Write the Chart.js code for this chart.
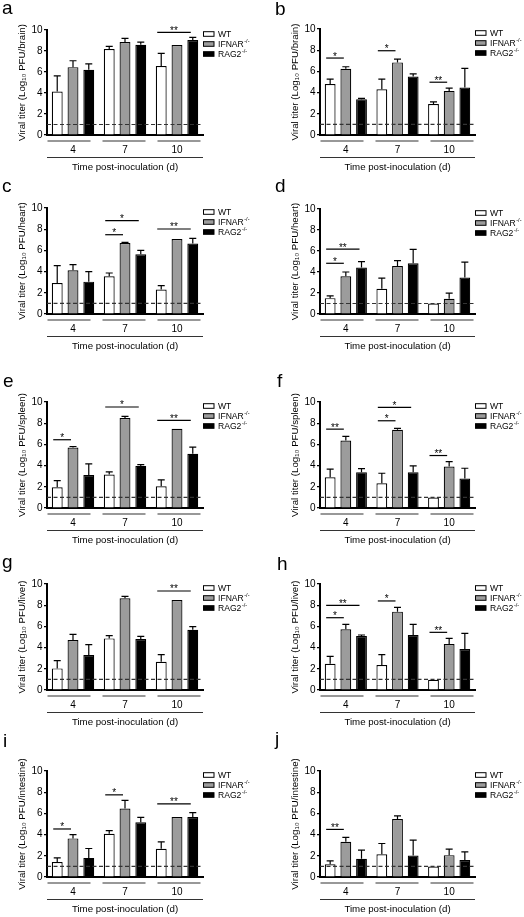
<!DOCTYPE html>
<html><head><meta charset="utf-8">
<script src="https://cdn.jsdelivr.net/npm/chart.js@4.4.1/dist/chart.umd.min.js"></script>
<style>
html,body{margin:0;padding:0;background:#fff;}
body{width:524px;height:917px;position:relative;overflow:hidden;}
canvas{position:absolute;}
</style></head><body>
<script>
// ---------- DATA ----------
const days = ['4', '7', '10'];
const seriesNames = ['WT', 'IFNAR', 'RAG2'];
const seriesSup = ['', '-/-', '-/-'];
const detectionLimit = 1;

// a: brain
const a_WT = [4.14, 8.18, 6.56],   a_WT_hi = [5.64, 8.44, 7.77];
const a_IFNAR = [6.46, 8.85, 8.57], a_IFNAR_hi = [7.07, 9.2, 8.57];
const a_RAG2 = [6.21, 8.6, 9.04],  a_RAG2_hi = [6.78, 8.85, 9.3];
const a_sig = [[2, 2, 9.78, '**']]; // [day index, compared series, bracket value, label]

// b: brain
const b_WT = [4.8, 4.32, 2.93],    b_WT_hi = [5.27, 5.27, 3.12];
const b_IFNAR = [6.25, 6.85, 4.16], b_IFNAR_hi = [6.44, 7.16, 4.42];
const b_RAG2 = [3.38, 5.52, 4.48], b_RAG2_hi = [3.45, 5.77, 6.28];
const b_sig = [[0, 1, 7.26, '*'], [1, 1, 7.95, '*'], [2, 1, 4.98, '**']];

// c: heart
const c_WT = [2.92, 3.55, 2.3],    c_WT_hi = [4.56, 3.87, 2.67];
const c_IFNAR = [4.12, 6.7, 7.08], c_IFNAR_hi = [4.65, 6.76, 7.08];
const c_RAG2 = [3.05, 5.63, 6.64], c_RAG2_hi = [3.99, 6.0, 7.14];
const c_sig = [[1, 1, 7.48, '*'], [1, 2, 8.8, '*'], [2, 2, 8.02, '**']];

// d: heart
const d_WT = [1.51, 2.4, 1.0],     d_WT_hi = [1.73, 3.41, 1.0];
const d_IFNAR = [3.6, 4.57, 1.45], d_IFNAR_hi = [4.0, 5.08, 1.99];
const d_RAG2 = [4.42, 4.83, 3.47], d_RAG2_hi = [4.98, 6.15, 4.95];
const d_sig = [[0, 1, 4.83, '*'], [0, 2, 6.18, '**']];

// e: spleen
const e_WT = [1.96, 3.15, 2.05],   e_WT_hi = [2.59, 3.41, 2.65];
const e_IFNAR = [5.71, 8.49, 7.48], e_IFNAR_hi = [5.8, 8.64, 7.48];
const e_RAG2 = [3.12, 3.97, 5.11], e_RAG2_hi = [4.16, 4.1, 5.74];
const e_sig = [[0, 1, 6.44, '*'], [1, 2, 9.53, '*'], [2, 2, 8.26, '**']];

// f: spleen
const f_WT = [2.9, 2.33, 0.98],    f_WT_hi = [3.66, 3.28, 0.98];
const f_IFNAR = [6.37, 7.38, 3.91], f_IFNAR_hi = [6.75, 7.51, 4.38];
const f_RAG2 = [3.38, 3.38, 2.78], f_RAG2_hi = [3.72, 3.97, 3.75];
const f_sig = [[0, 1, 7.44, '**'], [1, 1, 8.23, '*'], [1, 2, 9.5, '*'], [2, 1, 4.95, '**']];

// g: liver
const g_WT = [2.04, 4.87, 2.67],   g_WT_hi = [2.77, 5.13, 3.33];
const g_IFNAR = [4.72, 8.65, 8.49], g_IFNAR_hi = [5.25, 8.84, 8.49];
const g_RAG2 = [3.3, 4.81, 5.69],  g_RAG2_hi = [4.28, 5.06, 5.97];
const g_sig = [[2, 2, 9.34, '**']];

// h: liver
const h_WT = [2.48, 2.36, 0.97],   h_WT_hi = [3.18, 3.33, 0.97];
const h_IFNAR = [5.72, 7.39, 4.34], h_IFNAR_hi = [6.19, 7.8, 4.87];
const h_RAG2 = [5.09, 5.19, 3.87], h_RAG2_hi = [5.19, 6.19, 5.35];
const h_sig = [[0, 1, 6.82, '*'], [0, 2, 7.99, '**'], [1, 1, 8.4, '*'], [2, 1, 5.44, '**']];

// i: intestine
const i_WT = [1.42, 4.08, 2.66],   i_WT_hi = [1.8, 4.37, 3.32];
const i_IFNAR = [3.64, 6.46, 5.66], i_IFNAR_hi = [3.99, 7.22, 5.66];
const i_RAG2 = [1.8, 5.16, 5.66],  i_RAG2_hi = [2.69, 5.63, 6.08];
const i_sig = [[0, 1, 4.53, '*'], [1, 1, 7.75, '*'], [2, 2, 6.9, '**']];

// j: intestine
const j_WT = [1.2, 2.15, 0.98],    j_WT_hi = [1.52, 3.16, 0.98];
const j_IFNAR = [3.32, 5.47, 2.06], j_IFNAR_hi = [3.73, 5.76, 2.63];
const j_RAG2 = [1.71, 2.03, 1.61], j_RAG2_hi = [2.53, 3.48, 2.37];
const j_sig = [[0, 1, 4.49, '**']];

const yTicks = [0, 2, 4, 6, 8, 10];

// ---------- LAYOUT ----------
const FONT = '"Liberation Sans", Arial, Helvetica, sans-serif';
const CW = 262, CH = 200, TOPPAD = 45;
const panels = [
  {id:'a', organ:'brain',     col:0, y10:30,  y0:135, letter:[2,14],   vals:[a_WT,a_IFNAR,a_RAG2], hi:[a_WT_hi,a_IFNAR_hi,a_RAG2_hi], sig:a_sig},
  {id:'b', organ:'brain',     col:1, y10:29,  y0:135, letter:[275,15], vals:[b_WT,b_IFNAR,b_RAG2], hi:[b_WT_hi,b_IFNAR_hi,b_RAG2_hi], sig:b_sig},
  {id:'c', organ:'heart',     col:0, y10:208, y0:314, letter:[2,192],  vals:[c_WT,c_IFNAR,c_RAG2], hi:[c_WT_hi,c_IFNAR_hi,c_RAG2_hi], sig:c_sig},
  {id:'d', organ:'heart',     col:1, y10:209, y0:314, letter:[275,192],vals:[d_WT,d_IFNAR,d_RAG2], hi:[d_WT_hi,d_IFNAR_hi,d_RAG2_hi], sig:d_sig},
  {id:'e', organ:'spleen',    col:0, y10:402, y0:508, letter:[3,387],  vals:[e_WT,e_IFNAR,e_RAG2], hi:[e_WT_hi,e_IFNAR_hi,e_RAG2_hi], sig:e_sig},
  {id:'f', organ:'spleen',    col:1, y10:402, y0:508, letter:[277,387],vals:[f_WT,f_IFNAR,f_RAG2], hi:[f_WT_hi,f_IFNAR_hi,f_RAG2_hi], sig:f_sig},
  {id:'g', organ:'liver',     col:0, y10:584, y0:690, letter:[2,568],  vals:[g_WT,g_IFNAR,g_RAG2], hi:[g_WT_hi,g_IFNAR_hi,g_RAG2_hi], sig:g_sig},
  {id:'h', organ:'liver',     col:1, y10:584, y0:690, letter:[277,570],vals:[h_WT,h_IFNAR,h_RAG2], hi:[h_WT_hi,h_IFNAR_hi,h_RAG2_hi], sig:h_sig},
  {id:'i', organ:'intestine', col:0, y10:771, y0:877, letter:[3,747],  vals:[i_WT,i_IFNAR,i_RAG2], hi:[i_WT_hi,i_IFNAR_hi,i_RAG2_hi], sig:i_sig},
  {id:'j', organ:'intestine', col:1, y10:771, y0:877, letter:[275,745],vals:[j_WT,j_IFNAR,j_RAG2], hi:[j_WT_hi,j_IFNAR_hi,j_RAG2_hi], sig:j_sig}
];
const fills = ['#ffffff', '#9c9c9c', '#000000'];

const decor = {
  id: 'decor',
  afterDatasetsDraw(chart, args, opts) {
    const p = opts.panel, ctx = chart.ctx, ca = chart.chartArea;
    const ys = chart.scales.y;
    ctx.save();
    // error bars (upper)
    ctx.strokeStyle = '#000'; ctx.lineWidth = 1.2;
    p.hi.forEach((hiArr, di) => {
      const meta = chart.getDatasetMeta(di);
      hiArr.forEach((hv, k) => {
        const v = p.vals[di][k];
        if (hv == null || hv <= v + 0.02) return;
        const bar = meta.data[k];
        const yHi = ys.getPixelForValue(hv);
        ctx.beginPath();
        ctx.moveTo(bar.x, bar.y); ctx.lineTo(bar.x, yHi);
        ctx.moveTo(bar.x - 3.5, yHi); ctx.lineTo(bar.x + 3.5, yHi);
        ctx.stroke();
      });
    });
    // detection limit
    const yd = ys.getPixelForValue(detectionLimit);
    ctx.setLineDash([4, 2.5]); ctx.strokeStyle = '#333'; ctx.lineWidth = 1.2;
    ctx.beginPath(); ctx.moveTo(ca.left, yd); ctx.lineTo(ca.right, yd); ctx.stroke();
    ctx.setLineDash([]);
    // significance
    ctx.strokeStyle = '#000'; ctx.fillStyle = '#000'; ctx.lineWidth = 1.2;
    ctx.font = '10px ' + FONT; ctx.textAlign = 'center'; ctx.textBaseline = 'alphabetic';
    p.sig.forEach(([k, s, yv, lab]) => {
      const x1 = chart.getDatasetMeta(0).data[k].x - 4;
      const x2 = chart.getDatasetMeta(s).data[k].x - 2;
      const y = ys.getPixelForValue(yv);
      ctx.beginPath(); ctx.moveTo(x1, y); ctx.lineTo(x2, y); ctx.stroke();
      ctx.fillText(lab, (x1 + x2) / 2, y + 1.5);
    });
    ctx.restore();
  },
  afterDraw(chart, args, opts) {
    const p = opts.panel, ctx = chart.ctx, ca = chart.chartArea;
    ctx.save();
    ctx.strokeStyle = '#333'; ctx.lineWidth = 1.2;
    // group underlines
    for (let k = 0; k < days.length; k++) {
      const l = ca.left + 0.5 + k * 55;
      ctx.beginPath(); ctx.moveTo(l, ca.bottom + 6); ctx.lineTo(l + 43, ca.bottom + 6); ctx.stroke();
    }
    // axis-title line
    ctx.beginPath(); ctx.moveTo(ca.left, ca.bottom + 22.5); ctx.lineTo(ca.right, ca.bottom + 22.5); ctx.stroke();
    // legend
    ctx.textAlign = 'left'; ctx.textBaseline = 'middle'; ctx.fillStyle = '#000';
    seriesNames.forEach((nm, si) => {
      const yc = ca.top + 4 + si * 10;
      const bx = ca.right + 0.5;
      ctx.fillStyle = fills[si];
      ctx.fillRect(bx, yc - 2.3, 10.5, 4.6);
      ctx.strokeStyle = '#000'; ctx.lineWidth = 1;
      ctx.strokeRect(bx, yc - 2.3, 10.5, 4.6);
      ctx.fillStyle = '#000';
      ctx.font = '8.6px ' + FONT;
      const tx = bx + 14.5;
      ctx.fillText(nm, tx, yc + 0.5);
      if (seriesSup[si]) {
        const w = ctx.measureText(nm).width;
        ctx.font = '5.5px ' + FONT;
        ctx.fillText(seriesSup[si], tx + w + 0.5, yc - 2.5);
      }
    });
    // panel letter
    ctx.font = '19px ' + FONT; ctx.textBaseline = 'alphabetic'; ctx.textAlign = 'left';
    ctx.fillText(p.id, p.letter[0] - p.col * CW, p.letter[1] - (p.y10 - TOPPAD));
    ctx.restore();
  }
};

panels.forEach(p => {
  const cv = document.createElement('canvas');
  cv.width = CW; cv.height = CH;
  cv.style.left = (p.col * CW) + 'px';
  cv.style.top = (p.y10 - TOPPAD) + 'px';
  cv.style.width = CW + 'px'; cv.style.height = CH + 'px';
  document.body.appendChild(cv);
  const h = p.y0 - p.y10;
  const padL = p.col ? 27.2 : 16.2;
  const padR = p.col ? 49 : 59;
  new Chart(cv, {
    type: 'bar',
    data: {
      labels: days,
      datasets: seriesNames.map((nm, si) => ({
        label: nm + seriesSup[si],
        data: p.vals[si],
        backgroundColor: fills[si],
        borderColor: '#000',
        borderWidth: 1.2,
        borderSkipped: 'start',
        barPercentage: 0.69,
        categoryPercentage: 0.91
      }))
    },
    options: {
      responsive: false, animation: false, devicePixelRatio: 1,
      layout: { padding: { left: padL, right: padR, top: TOPPAD, bottom: CH - TOPPAD - h - 38 } },
      plugins: { legend: { display: false }, tooltip: { enabled: false }, decor: { panel: p } },
      scales: {
        x: {
          grid: { display: false, drawTicks: false },
          border: { display: true, color: '#000', width: 2 },
          ticks: { padding: 9, color: '#000', font: { size: 10, family: FONT } },
          title: { display: true, text: 'Time post-inoculation (d)', color: '#000', padding: 0, font: { size: 9.7, family: FONT } },
          afterFit: s => { s.height = 38; }
        },
        y: {
          min: 0, max: 10,
          afterBuildTicks: s => { s.ticks = yTicks.map(v => ({ value: v })); },
          ticks: { padding: 1.5, color: '#000', font: { size: 10, family: FONT } },
          grid: { drawOnChartArea: false, drawTicks: true, tickLength: 3, color: '#000', lineWidth: 1.2 },
          border: { display: true, color: '#000', width: 2 },
          title: { display: true, text: 'Viral titer (Log\u2081\u2080 PFU/' + p.organ + ')', color: '#000', padding: 0, font: { size: 9.7, family: FONT } },
          afterFit: s => { s.width = 30.8; }
        }
      }
    },
    plugins: [decor]
  });
});
</script>
</body></html>
